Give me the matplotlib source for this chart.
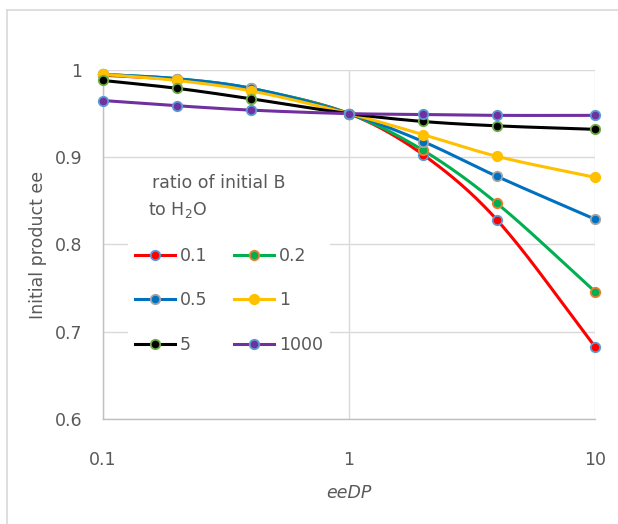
import matplotlib.pyplot as plt
import numpy as np
from matplotlib.lines import Line2D

plt.rcParams['font.family'] = ['DejaVu Sans']

# eeDP values (x) and initial product ee for each B:H2O ratio
eedp = [0.1, 0.2, 0.4, 1, 2, 4, 10]
ratios = ['0.1', '0.2', '0.5', '1', '5', '1000']
ee_01 = [0.994, 0.989, 0.978, 0.950, 0.903, 0.828, 0.683]
ee_02 = [0.995, 0.990, 0.979, 0.950, 0.908, 0.847, 0.746]
ee_05 = [0.995, 0.990, 0.979, 0.950, 0.918, 0.878, 0.829]
ee_1 = [0.995, 0.988, 0.976, 0.950, 0.926, 0.901, 0.877]
ee_5 = [0.988, 0.979, 0.967, 0.950, 0.941, 0.936, 0.932]
ee_1000 = [0.965, 0.959, 0.954, 0.950, 0.949, 0.948, 0.948]
series = [ee_01, ee_02, ee_05, ee_1, ee_5, ee_1000]

line_colors = ['#FF0000', '#00B050', '#0070C0', '#FFC000', '#000000', '#7030A0']
edge_colors = ['#5B9BD5', '#ED7D31', '#A5A5A5', '#FFC000', '#70AD47', '#5B9BD5']
text_color = '#595959'
grid_color = '#D9D9D9'
fs = 12.5


def smooth(xs, ys, n=40):
    # cubic Hermite curve through the points in log-x, with
    # central-difference slopes (one-sided at the ends)
    u = np.log10(xs)
    y = np.asarray(ys, dtype=float)
    m = np.empty_like(y)
    m[1:-1] = (y[2:] - y[:-2]) / (u[2:] - u[:-2])
    m[0] = (y[1] - y[0]) / (u[1] - u[0])
    m[-1] = (y[-1] - y[-2]) / (u[-1] - u[-2])
    uu, yy = [], []
    for i in range(len(u) - 1):
        h = u[i + 1] - u[i]
        t = np.linspace(0, 1, n)
        if i > 0:
            t = t[1:]
        h00 = 2 * t ** 3 - 3 * t ** 2 + 1
        h10 = t ** 3 - 2 * t ** 2 + t
        h01 = -2 * t ** 3 + 3 * t ** 2
        h11 = t ** 3 - t ** 2
        uu.append(u[i] + t * h)
        yy.append(h00 * y[i] + h10 * h * m[i] + h01 * y[i + 1] + h11 * h * m[i + 1])
    return 10 ** np.concatenate(uu), np.concatenate(yy)


fig = plt.figure(figsize=(6.18, 5.24), dpi=100)
ax = fig.add_axes([103 / 618, 105 / 524, 492 / 618, 349 / 524])

handles = []
for ys, lc, ec, lab in zip(series, line_colors, edge_colors, ratios):
    sx, sy = smooth(eedp, ys)
    ax.plot(sx, sy, color=lc, lw=2.2, solid_capstyle='round', zorder=3)
    ax.plot(eedp, ys, ls='none', marker='o', ms=6.8, mfc=lc, mec=ec, mew=1.3,
            zorder=4, clip_on=False)
    handles.append(Line2D([], [], color=lc, lw=2.2, marker='o', ms=6.8,
                          mfc=lc, mec=ec, mew=1.3, label=lab))

ax.set_xscale('log')
ax.set_xlim(0.1, 10)
ax.set_ylim(0.6, 1.0)
ax.set_xticks([0.1, 1, 10])
ax.set_xticklabels(['0.1', '1', '10'])
ax.set_yticks([0.6, 0.7, 0.8, 0.9, 1.0])
ax.set_yticklabels(['0.6', '0.7', '0.8', '0.9', '1'])
ax.minorticks_off()
ax.tick_params(length=0, labelsize=fs, colors=text_color)
ax.tick_params(axis='y', pad=15)
ax.tick_params(axis='x', pad=23)
ax.grid(True, color=grid_color, lw=1.0)
ax.set_axisbelow(True)
for side in ['top', 'right']:
    ax.spines[side].set_visible(False)
for side in ['left', 'bottom']:
    ax.spines[side].set_color('#BFBFBF')
    ax.spines[side].set_linewidth(1.0)

ax.set_ylabel('Initial product ee', fontsize=fs, color=text_color)
ax.set_xlabel('eeDP', fontsize=fs, color=text_color, style='italic')
ax.yaxis.set_label_coords(-0.114, 0.5)
ax.xaxis.set_label_coords(0.5, -0.187)

# legend filled row by row: 0.1 0.2 / 0.5 1 / 5 1000
order = [0, 2, 4, 1, 3, 5]
leg = ax.legend(handles=[handles[i] for i in order], ncol=2, loc='upper left',
                bbox_to_anchor=(128 / 618, 1 - 240 / 524),
                bbox_transform=fig.transFigure, borderaxespad=0, fontsize=fs,
                frameon=True, facecolor='white', edgecolor='none', framealpha=1,
                fancybox=False, handlelength=2.3, handletextpad=0.3,
                labelspacing=1.52, columnspacing=1.5, borderpad=0.4)
for t in leg.get_texts():
    t.set_color(text_color)

fig.text(152 / 618, 1 - 183 / 524, 'ratio of initial B', fontsize=fs,
         color=text_color, va='center', ha='left')
fig.text(148 / 618, 1 - 210 / 524, 'to H$_2$O', fontsize=fs,
         color=text_color, va='center', ha='left')

# outer chart frame
fig.add_artist(Line2D([7 / 618, 1], [1 - 10 / 524] * 2, color=grid_color, lw=1.2))
fig.add_artist(Line2D([7 / 618] * 2, [0, 1 - 10 / 524], color=grid_color, lw=1.2))

fig.savefig('out.png', dpi=100)
